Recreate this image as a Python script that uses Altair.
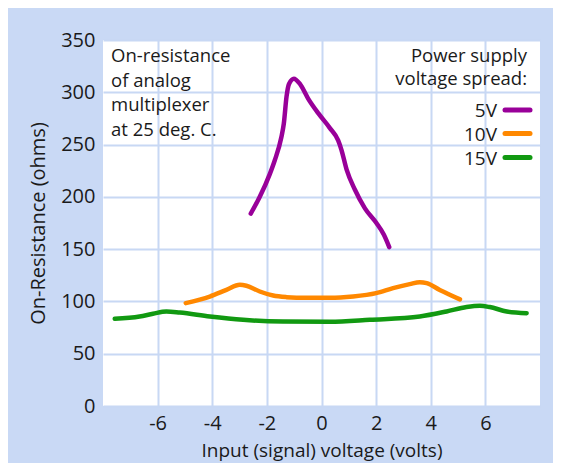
import altair as alt
import pandas as pd

# ---- data ----
series = ["5V", "10V", "15V"]
colors = ["#990099", "#ff8800", "#119911"]

v5_x = [-2.59, -2.26, -1.89, -1.71, -1.47, -1.38, -1.28, -1.19, -1.01, -0.79, -0.49,
        -0.12, 0.30, 0.61, 0.73, 0.92, 1.22, 1.59, 2.01, 2.28, 2.48]
v5_y = [184, 200, 222, 235, 257, 270, 296, 308, 313, 308, 294,
        280, 266, 254, 245, 226, 207, 189, 175, 164, 152]

v10_x = [-4.97, -4.09, -3.48, -2.99, -2.75, -2.26, -1.77, -1.28, -0.55, 0.30, 1.16,
         2.0, 2.62, 3.23, 3.60, 3.85, 4.33, 5.07]
v10_y = [98.4, 104.7, 111, 115.9, 115, 109.5, 105.6, 104.1, 103.4, 103.4, 104.7,
         107.9, 112.7, 116.5, 118.4, 117.5, 111, 102]

v15_x = [-7.57, -6.66, -6.17, -5.68, -5.19, -4.09, -2.87, -1.41, 0.30, 1.77, 3.60,
         4.58, 5.31, 5.80, 6.16, 6.78, 7.51]
v15_y = [83.4, 85.6, 88.2, 90.4, 89.4, 85.6, 82.4, 80.8, 80.5, 82.4, 85.6,
         90.4, 94.6, 95.8, 94.6, 90.4, 88.8]

x_ticks = [-6, -4, -2, 0, 2, 4, 6]
y_ticks = [0, 50, 100, 150, 200, 250, 300, 350]

note_text = "On-resistance\nof analog\nmultiplexer\nat 25 deg. C."
legend_title = "Power supply\nvoltage spread:"

FONT = "Open Sans"
BG = "#c9d9f5"
GRID = "#c8d8f4"
TXT = "#1a1a1a"

rows = []
for name, xs, ys in [("5V", v5_x, v5_y), ("10V", v10_x, v10_y), ("15V", v15_x, v15_y)]:
    for xv, yv in zip(xs, ys):
        rows.append({"series": name, "x": xv, "y": yv})
df = pd.DataFrame(rows)

W, H = 437, 366

lines = alt.Chart(df).mark_line(strokeWidth=4.5, strokeCap="round", strokeJoin="round",
                                interpolate="monotone").encode(
    x=alt.X("x:Q", scale=alt.Scale(domain=[-8, 8], nice=False, zero=False),
            axis=alt.Axis(values=x_ticks, title="Input (signal) voltage (volts)",
                          labelExpr="'' + datum.value",
                          grid=True, gridColor=GRID, gridWidth=2, domain=False, ticks=False,
                          labelFont=FONT, labelFontSize=20, labelColor=TXT, labelPadding=7,
                          titleFont=FONT, titleFontSize=19, titleFontWeight="normal",
                          titleColor=TXT, titlePadding=8)),
    y=alt.Y("y:Q", scale=alt.Scale(domain=[0, 350], nice=False),
            axis=alt.Axis(values=y_ticks, title="On-Resistance (ohms)",
                          grid=True, gridColor=GRID, gridWidth=2, domain=False, ticks=False,
                          labelFont=FONT, labelFontSize=20, labelColor=TXT, labelPadding=8,
                          titleFont=FONT, titleFontSize=20, titleFontWeight="normal",
                          titleColor=TXT, titlePadding=12)),
    color=alt.Color("series:N", scale=alt.Scale(domain=series, range=colors), legend=None),
    detail="series:N",
)

note = alt.Chart(pd.DataFrame({"t": [note_text]})).mark_text(
    align="left", baseline="alphabetic", lineBreak="\n", lineHeight=24.5,
    font=FONT, fontSize=18.5, color=TXT).encode(
    x=alt.value(8), y=alt.value(22), text="t:N")

ltitle = alt.Chart(pd.DataFrame({"t": [legend_title]})).mark_text(
    align="right", baseline="alphabetic", lineBreak="\n", lineHeight=23,
    font=FONT, fontSize=18.5, color=TXT).encode(
    x=alt.value(424), y=alt.value(22), text="t:N")

legend_layers = []
leg_y = [70, 93.5, 117.5]
for name, col, yy in zip(series, colors, leg_y):
    ldf = pd.DataFrame({"series": [name]})
    legend_layers.append(alt.Chart(ldf).mark_rule(strokeWidth=5, strokeCap="round", color=col).encode(
        x=alt.value(402), x2=alt.value(427), y=alt.value(yy)))
    legend_layers.append(alt.Chart(ldf).mark_text(
        align="right", baseline="middle", font=FONT, fontSize=19, color=TXT).encode(
        x=alt.value(394), y=alt.value(yy + 1), text="series:N"))

chart = alt.layer(lines, note, ltitle, *legend_layers).properties(
    width=W, height=H,
    background=BG,
    autosize=alt.AutoSizeParams(type="none"),
    padding={"left": 95, "top": 32, "right": 13, "bottom": 57},
).configure_view(fill="white", stroke=None)

chart.save("out.html", embed_options={"renderer": "svg", "actions": False})
